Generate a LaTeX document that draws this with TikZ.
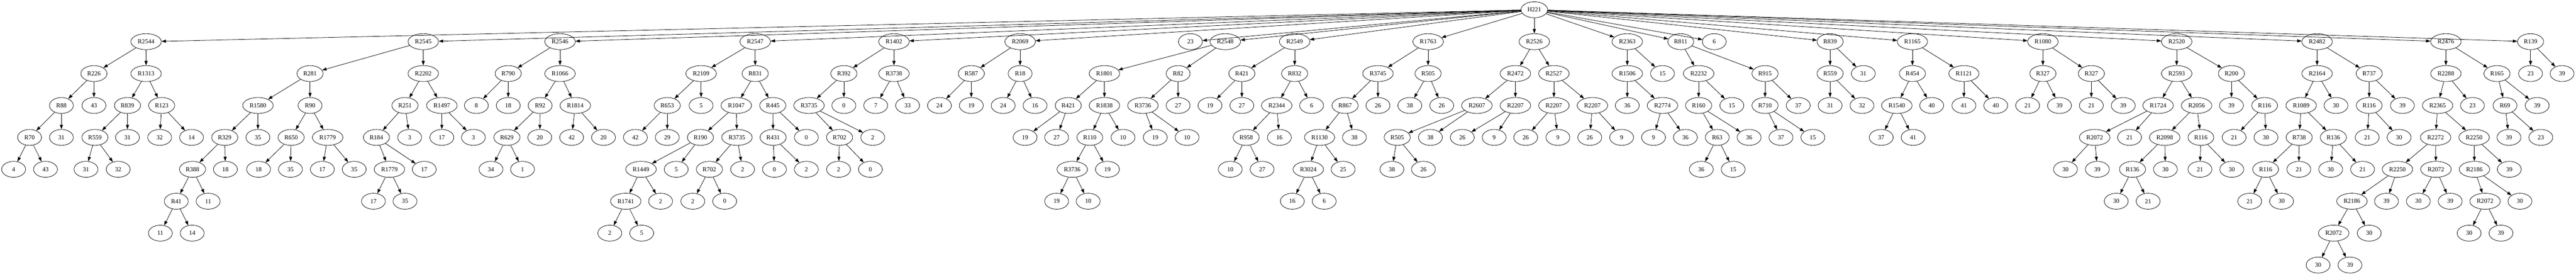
\documentclass[tikz,border=0pt]{standalone}
\usepackage{fontspec}
\setmainfont{Liberation Serif}
\usetikzlibrary{shapes.geometric,arrows.meta}

\begin{document}
\begin{tikzpicture}[x=0.75pt, y=-72pt, >={Triangle[length=10pt,width=7pt]}, line width=0.9pt]
        \tikzstyle{every node}=[draw, ellipse, line width=0.9pt, minimum width=54pt, minimum height=36pt, inner xsep=5.7pt, inner ysep=2pt, font=\fontsize{14pt}{16pt}\selectfont]
        \useasboundingbox (0pt,22pt) rectangle (5820pt,-598pt);

        \node (0) at (4622,0) {H221};

        \node (1) at (440,1) {R2544};
        \node (2) at (1275,1) {R2545};
        \node (3) at (1687,1) {R2546};
        \node (4) at (2275,1) {R2547};
        \node (5) at (2693,1) {R1402};
        \node (6) at (3073,1) {R2069};
        \node (7) at (3586,1) {23};
        \node (8) at (3691,1) {R2548};
        \node (9) at (3900,1) {R2549};
        \node (10) at (4302,1) {R1763};
        \node (11) at (4622,1) {R2526};
        \node (12) at (4902,1) {R2363};
        \node (13) at (5063,1) {R811};
        \node (14) at (5164,1) {6};
        \node (15) at (5513,1) {R839};
        \node (16) at (5761,1) {R1165};
        \node (17) at (6154,1) {R1080};
        \node (18) at (6557,1) {R2520};
        \node (19) at (6980,1) {R2482};
        \node (20) at (7368,1) {R2476};
        \node (21) at (7623,1) {R139};

        \node (22) at (283,2) {R226};   \node (23) at (440,2) {R1313};
        \node (24) at (934,2) {R281};   \node (25) at (1275,2) {R2202};
        \node (26) at (1531,2) {R790};  \node (27) at (1687,2) {R1066};
        \node (28) at (2112,2) {R2109}; \node (29) at (2275,2) {R831};
        \node (30) at (2542,2) {R392};  \node (31) at (2693,2) {R3738};
        \node (32) at (2926,2) {R587};  \node (33) at (3073,2) {R18};
        \node (34) at (3327,2) {R1801}; \node (35) at (3549,2) {R82};
        \node (36) at (3741,2) {R421};  \node (37) at (3900,2) {R832};
        \node (38) at (4151,2) {R3745}; \node (39) at (4302,2) {R505};
        \node (40) at (4565,2) {R2472}; \node (41) at (4681,2) {R2527};
        \node (42) at (4902,2) {R1506}; \node (43) at (5008,2) {15};
        \node (44) at (5117,2) {R2232}; \node (45) at (5317,2) {R915};
        \node (46) at (5513,2) {R559};  \node (47) at (5613,2) {31};
        \node (48) at (5761,2) {R454};  \node (49) at (5916,2) {R1121};
        \node (50) at (6154,2) {R327};  \node (51) at (6300,2) {R327};
        \node (52) at (6557,2) {R2593}; \node (53) at (6722,2) {R200};
        \node (54) at (6980,2) {R2164}; \node (55) at (7137,2) {R737};
        \node (56) at (7368,2) {R2288}; \node (57) at (7522,2) {R165};
        \node (58) at (7623,2) {23};    \node (59) at (7718,2) {39};

        \node (60) at (185,3) {R88};    \node (61) at (283,3) {43};
        \node (62) at (384,3) {R839};   \node (63) at (487,3) {R123};
        \node (64) at (777,3) {R1580};  \node (65) at (934,3) {R90};
        \node (66) at (1220,3) {R251};  \node (67) at (1331,3) {R1497};
        \node (68) at (1435,3) {8};     \node (69) at (1531,3) {18};
        \node (70) at (1627,3) {R92};   \node (71) at (1733,3) {R1814};
        \node (72) at (2010,3) {R653};  \node (73) at (2112,3) {5};
        \node (74) at (2218,3) {R1047}; \node (75) at (2328,3) {R445};
        \node (76) at (2437,3) {R3735}; \node (77) at (2542,3) {0};
        \node (78) at (2638,3) {7};     \node (79) at (2734,3) {33};
        \node (80) at (2830,3) {24};    \node (81) at (2926,3) {19};
        \node (82) at (3022,3) {24};    \node (83) at (3118,3) {16};
        \node (84) at (3218,3) {R421};  \node (85) at (3327,3) {R1838};
        \node (86) at (3443,3) {R3736}; \node (87) at (3549,3) {27};
        \node (88) at (3645,3) {19};    \node (89) at (3741,3) {27};
        \node (90) at (3846,3) {R2344}; \node (91) at (3951,3) {6};
        \node (92) at (4052,3) {R867};  \node (93) at (4151,3) {26};
        \node (94) at (4247,3) {38};    \node (95) at (4343,3) {26};
        \node (96) at (4449,3) {R2607}; \node (97) at (4565,3) {R2207};
        \node (98) at (4681,3) {R2207}; \node (99) at (4797,3) {R2207};
        \node (100) at (4902,3) {36};   \node (101) at (5008,3) {R2774};
        \node (102) at (5117,3) {R160}; \node (103) at (5217,3) {15};
        \node (104) at (5317,3) {R710}; \node (105) at (5417,3) {37};
        \node (106) at (5513,3) {31};   \node (107) at (5609,3) {32};
        \node (108) at (5714,3) {R1540};\node (109) at (5819,3) {40};
        \node (110) at (5916,3) {41};   \node (111) at (6012,3) {40};
        \node (112) at (6108,3) {21};   \node (113) at (6204,3) {39};
        \node (114) at (6300,3) {21};   \node (115) at (6396,3) {39};
        \node (116) at (6501,3) {R1724};\node (117) at (6617,3) {R2056};
        \node (118) at (6722,3) {39};   \node (119) at (6822,3) {R116};
        \node (120) at (6932,3) {R1089};\node (121) at (7037,3) {30};
        \node (122) at (7137,3) {R116}; \node (123) at (7237,3) {39};
        \node (124) at (7343,3) {R2365};\node (125) at (7448,3) {23};
        \node (126) at (7546,3) {R69};  \node (127) at (7643,3) {39};

        \node (128) at (89,4) {R70};    \node (129) at (185,4) {31};
        \node (130) at (286,4) {R559};  \node (131) at (384,4) {31};
        \node (132) at (481,4) {32};    \node (133) at (577,4) {14};
        \node (134) at (677,4) {R329};  \node (135) at (777,4) {35};
        \node (136) at (877,4) {R650};  \node (137) at (987,4) {R1779};
        \node (138) at (1134,4) {R184}; \node (139) at (1234,4) {3};
        \node (140) at (1331,4) {17};   \node (141) at (1426,4) {3};
        \node (142) at (1527,4) {R629}; \node (143) at (1626,4) {20};
        \node (144) at (1722,4) {42};   \node (145) at (1818,4) {20};
        \node (146) at (1914,4) {42};   \node (147) at (2010,4) {29};
        \node (148) at (2110,4) {R190}; \node (149) at (2220,4) {R3735};
        \node (150) at (2329,4) {R431}; \node (151) at (2429,4) {0};
        \node (152) at (2529,4) {R702}; \node (153) at (2629,4) {2};
        \node (154) at (3088,4) {19};   \node (155) at (3183,4) {27};
        \node (156) at (3283,4) {R110}; \node (157) at (3383,4) {10};
        \node (158) at (3480,4) {19};   \node (159) at (3576,4) {10};
        \node (160) at (3754,4) {R958}; \node (161) at (3854,4) {16};
        \node (162) at (3975,4) {R1130};\node (163) at (4080,4) {38};
        \node (164) at (4209,4) {R505}; \node (165) at (4309,4) {38};
        \node (166) at (4405,4) {26};   \node (167) at (4501,4) {9};
        \node (168) at (4596,4) {26};   \node (169) at (4693,4) {9};
        \node (170) at (4789,4) {26};   \node (171) at (4885,4) {9};
        \node (172) at (4981,4) {9};    \node (173) at (5077,4) {36};
        \node (174) at (5173,4) {R63};  \node (175) at (5269,4) {36};
        \node (176) at (5365,4) {37};   \node (177) at (5461,4) {15};
        \node (178) at (5667,4) {37};   \node (179) at (5763,4) {41};
        \node (180) at (6310,4) {R2072};\node (181) at (6415,4) {21};
        \node (182) at (6521,4) {R2098};\node (183) at (6630,4) {R116};
        \node (184) at (6730,4) {21};   \node (185) at (6826,4) {30};
        \node (186) at (6926,4) {R738}; \node (187) at (7029,4) {R136};
        \node (188) at (7131,4) {21};   \node (189) at (7227,4) {30};
        \node (190) at (7337,4) {R2272};\node (191) at (7453,4) {R2250};
        \node (192) at (7558,4) {39};   \node (193) at (7654,4) {23};

        \node (194) at (41,5) {4};      \node (195) at (137,5) {43};
        \node (196) at (259,5) {31};    \node (197) at (356,5) {32};
        \node (198) at (580,5) {R388};  \node (199) at (679,5) {18};
        \node (200) at (779,5) {18};    \node (201) at (875,5) {35};
        \node (202) at (971,5) {17};    \node (203) at (1067,5) {35};
        \node (204) at (1173,5) {R1779};\node (205) at (1278,5) {17};
        \node (206) at (1479,5) {34};   \node (207) at (1574,5) {1};
        \node (208) at (1931,5) {R1449};\node (209) at (2037,5) {5};
        \node (210) at (2137,5) {R702}; \node (211) at (2237,5) {2};
        \node (212) at (2333,5) {0};    \node (213) at (2429,5) {2};
        \node (214) at (2526,5) {2};    \node (215) at (2622,5) {0};
        \node (216) at (3230,5) {R3736};\node (217) at (3336,5) {19};
        \node (218) at (3706,5) {10};   \node (219) at (3802,5) {27};
        \node (220) at (3941,5) {R3024};\node (221) at (4046,5) {25};
        \node (222) at (4193,5) {38};   \node (223) at (4288,5) {26};
        \node (224) at (5125,5) {36};   \node (225) at (5221,5) {15};
        \node (226) at (6222,5) {30};   \node (227) at (6318,5) {39};
        \node (228) at (6424,5) {R136}; \node (229) at (6523,5) {30};
        \node (230) at (6627,5) {21};   \node (231) at (6723,5) {30};
        \node (232) at (6825,5) {R116}; \node (233) at (6925,5) {21};
        \node (234) at (7021,5) {30};   \node (235) at (7117,5) {21};
        \node (236) at (7222,5) {R2250};\node (237) at (7338,5) {R2072};
        \node (238) at (7454,5) {R2186};\node (239) at (7559,5) {39};

        \node (240) at (531,6) {R41};   \node (241) at (627,6) {11};
        \node (242) at (1125,6) {17};   \node (243) at (1220,6) {35};
        \node (244) at (1885,6) {R1741};\node (245) at (1990,6) {2};
        \node (246) at (2087,6) {2};    \node (247) at (2183,6) {0};
        \node (248) at (3183,6) {19};   \node (249) at (3278,6) {10};
        \node (250) at (3893,6) {16};   \node (251) at (3989,6) {6};
        \node (252) at (6375,6) {30};   \node (253) at (6471,6) {21};
        \node (254) at (6777,6) {21};   \node (255) at (6873,6) {30};
        \node (256) at (7085,6) {R2186};\node (257) at (7189,6) {39};
        \node (258) at (7285,6) {30};   \node (259) at (7381,6) {39};
        \node (260) at (7486,6) {R2072};\node (261) at (7591,6) {30};

        \node (262) at (483,7) {11};    \node (263) at (579,7) {14};
        \node (264) at (1837,7) {2};    \node (265) at (1933,7) {5};
        \node (266) at (7030,7) {R2072};\node (267) at (7137,7) {30};
        \node (268) at (7438,7) {30};   \node (269) at (7534,7) {39};

        \node (270) at (6983,8) {30};   \node (271) at (7079,8) {39};

        \draw[->] (0) edge (1) edge (2) edge (3) edge (4) edge (5) edge (6) edge (7) edge (8) edge (9) edge (10) edge (11) edge (12) edge (13) edge (14) edge (15) edge (16) edge (17) edge (18) edge (19) edge (20) edge (21);

        \draw[->] (1) edge (22) edge (23);
        \draw[->] (2) edge (24) edge (25);
        \draw[->] (3) edge (26) edge (27);
        \draw[->] (4) edge (28) edge (29);
        \draw[->] (5) edge (30) edge (31);
        \draw[->] (6) edge (32) edge (33);
        \draw[->] (8) edge (34) edge (35);
        \draw[->] (9) edge (36) edge (37);
        \draw[->] (10) edge (38) edge (39);
        \draw[->] (11) edge (40) edge (41);
        \draw[->] (12) edge (42) edge (43);
        \draw[->] (13) edge (44) edge (45);
        \draw[->] (15) edge (46) edge (47);
        \draw[->] (16) edge (48) edge (49);
        \draw[->] (17) edge (50) edge (51);
        \draw[->] (18) edge (52) edge (53);
        \draw[->] (19) edge (54) edge (55);
        \draw[->] (20) edge (56) edge (57);
        \draw[->] (21) edge (58) edge (59);

        \draw[->] (22) edge (60) edge (61);
        \draw[->] (23) edge (62) edge (63);
        \draw[->] (24) edge (64) edge (65);
        \draw[->] (25) edge (66) edge (67);
        \draw[->] (26) edge (68) edge (69);
        \draw[->] (27) edge (70) edge (71);
        \draw[->] (28) edge (72) edge (73);
        \draw[->] (29) edge (74) edge (75);
        \draw[->] (30) edge (76) edge (77);
        \draw[->] (31) edge (78) edge (79);
        \draw[->] (32) edge (80) edge (81);
        \draw[->] (33) edge (82) edge (83);
        \draw[->] (34) edge (84) edge (85);
        \draw[->] (35) edge (86) edge (87);
        \draw[->] (36) edge (88) edge (89);
        \draw[->] (37) edge (90) edge (91);
        \draw[->] (38) edge (92) edge (93);
        \draw[->] (39) edge (94) edge (95);
        \draw[->] (40) edge (96) edge (97);
        \draw[->] (41) edge (98) edge (99);
        \draw[->] (42) edge (100) edge (101);
        \draw[->] (44) edge (102) edge (103);
        \draw[->] (45) edge (104) edge (105);
        \draw[->] (46) edge (106) edge (107);
        \draw[->] (48) edge (108) edge (109);
        \draw[->] (49) edge (110) edge (111);
        \draw[->] (50) edge (112) edge (113);
        \draw[->] (51) edge (114) edge (115);
        \draw[->] (52) edge (116) edge (117);
        \draw[->] (53) edge (118) edge (119);
        \draw[->] (54) edge (120) edge (121);
        \draw[->] (55) edge (122) edge (123);
        \draw[->] (56) edge (124) edge (125);
        \draw[->] (57) edge (126) edge (127);

        \draw[->] (60) edge (128) edge (129);
        \draw[->] (62) edge (130) edge (131);
        \draw[->] (63) edge (132) edge (133);
        \draw[->] (64) edge (134) edge (135);
        \draw[->] (65) edge (136) edge (137);
        \draw[->] (66) edge (138) edge (139);
        \draw[->] (67) edge (140) edge (141);
        \draw[->] (70) edge (142) edge (143);
        \draw[->] (71) edge (144) edge (145);
        \draw[->] (72) edge (146) edge (147);
        \draw[->] (74) edge (148) edge (149);
        \draw[->] (75) edge (150) edge (151);
        \draw[->] (76) edge (152) edge (153);
        \draw[->] (84) edge (154) edge (155);
        \draw[->] (85) edge (156) edge (157);
        \draw[->] (86) edge (158) edge (159);
        \draw[->] (90) edge (160) edge (161);
        \draw[->] (92) edge (162) edge (163);
        \draw[->] (96) edge (164) edge (165);
        \draw[->] (97) edge (166) edge (167);
        \draw[->] (98) edge (168) edge (169);
        \draw[->] (99) edge (170) edge (171);
        \draw[->] (101) edge (172) edge (173);
        \draw[->] (102) edge (174) edge (175);
        \draw[->] (104) edge (176) edge (177);
        \draw[->] (108) edge (178) edge (179);
        \draw[->] (116) edge (180) edge (181);
        \draw[->] (117) edge (182) edge (183);
        \draw[->] (119) edge (184) edge (185);
        \draw[->] (120) edge (186) edge (187);
        \draw[->] (122) edge (188) edge (189);
        \draw[->] (124) edge (190) edge (191);
        \draw[->] (126) edge (192) edge (193);

        \draw[->] (128) edge (194) edge (195);
        \draw[->] (130) edge (196) edge (197);
        \draw[->] (134) edge (198) edge (199);
        \draw[->] (136) edge (200) edge (201);
        \draw[->] (137) edge (202) edge (203);
        \draw[->] (138) edge (204) edge (205);
        \draw[->] (142) edge (206) edge (207);
        \draw[->] (148) edge (208) edge (209);
        \draw[->] (149) edge (210) edge (211);
        \draw[->] (150) edge (212) edge (213);
        \draw[->] (152) edge (214) edge (215);
        \draw[->] (156) edge (216) edge (217);
        \draw[->] (160) edge (218) edge (219);
        \draw[->] (162) edge (220) edge (221);
        \draw[->] (164) edge (222) edge (223);
        \draw[->] (174) edge (224) edge (225);
        \draw[->] (180) edge (226) edge (227);
        \draw[->] (182) edge (228) edge (229);
        \draw[->] (183) edge (230) edge (231);
        \draw[->] (186) edge (232) edge (233);
        \draw[->] (187) edge (234) edge (235);
        \draw[->] (190) edge (236) edge (237);
        \draw[->] (191) edge (238) edge (239);

        \draw[->] (198) edge (240) edge (241);
        \draw[->] (204) edge (242) edge (243);
        \draw[->] (208) edge (244) edge (245);
        \draw[->] (210) edge (246) edge (247);
        \draw[->] (216) edge (248) edge (249);
        \draw[->] (220) edge (250) edge (251);
        \draw[->] (228) edge (252) edge (253);
        \draw[->] (232) edge (254) edge (255);
        \draw[->] (236) edge (256) edge (257);
        \draw[->] (237) edge (258) edge (259);
        \draw[->] (238) edge (260) edge (261);

        \draw[->] (240) edge (262) edge (263);
        \draw[->] (244) edge (264) edge (265);
        \draw[->] (256) edge (266) edge (267);
        \draw[->] (260) edge (268) edge (269);

        \draw[->] (266) edge (270) edge (271);
    \end{tikzpicture}
\end{document}
